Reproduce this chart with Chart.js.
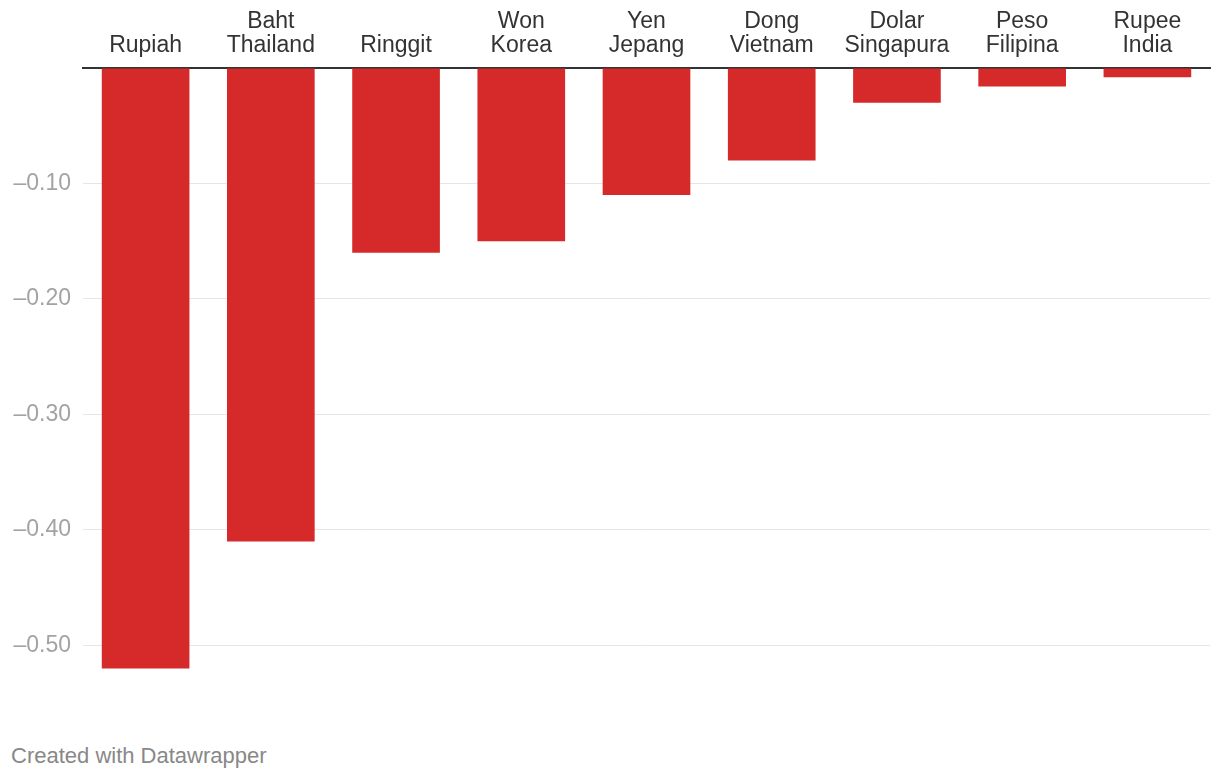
<!DOCTYPE html>
<html>
<head>
<meta charset="utf-8">
<title>Mata uang Asia</title>
<script src="https://cdn.jsdelivr.net/npm/chart.js@4.4.1/dist/chart.umd.min.js"></script>
<style>
    html, body { margin: 0; padding: 0; background: #fff; }
    #wrap { position: relative; width: 1220px; height: 729px; }
    #footer {
        position: absolute; left: 11px; top: 745px;
        font: 22px/22px "Liberation Sans", Arial, sans-serif; color: #888;
    }
</style>
</head>
<body>
<div id="wrap"><canvas id="myBarChart"></canvas></div>
<div id="footer">Created with Datawrapper</div>
<script>
// data
var categories = [
    ['Rupiah'], ['Baht', 'Thailand'], ['Ringgit'], ['Won', 'Korea'], ['Yen', 'Jepang'],
    ['Dong', 'Vietnam'], ['Dolar', 'Singapura'], ['Peso', 'Filipina'], ['Rupee', 'India']
];
var values = [-0.52, -0.41, -0.16, -0.15, -0.11, -0.08, -0.03, -0.016, -0.008];
var yTicks = [0, -0.1, -0.2, -0.3, -0.4, -0.5];

window.addEventListener('load', function () {
    var fontFamily = '"Liberation Sans", Arial, sans-serif';
    var ctx = document.getElementById('myBarChart').getContext('2d');

    var myBarChart = new Chart(ctx, {
        type: 'bar',
        data: {
            labels: categories,
            datasets: [{
                data: values,
                backgroundColor: '#d6292a',
                borderWidth: 0,
                categoryPercentage: 1,
                barPercentage: 0.7
            }]
        },
        options: {
            responsive: true,
            maintainAspectRatio: false,
            animation: false,
            layout: { padding: { top: 0, right: 10, bottom: 9, left: 0 } },
            plugins: {
                legend: { display: false },
                tooltip: { enabled: false }
            },
            scales: {
                x: {
                    position: 'top',
                    z: 1,
                    grid: { display: false, drawTicks: false },
                    border: { display: true, color: '#333', width: 2 },
                    ticks: {
                        color: '#333',
                        padding: 10,
                        maxRotation: 0,
                        autoSkip: false,
                        font: { family: fontFamily, size: 23, lineHeight: 1.045 }
                    },
                    afterFit: function (scale) { scale.height = 68; }
                },
                y: {
                    min: -0.55,
                    max: 0,
                    border: { display: false },
                    grid: {
                        drawTicks: false,
                        color: function (c) {
                            return c.tick && c.tick.value === 0 ? 'rgba(0,0,0,0)' : '#e6e6e6';
                        }
                    },
                    afterBuildTicks: function (scale) {
                        scale.ticks = yTicks.map(function (v) { return { value: v }; });
                    },
                    ticks: {
                        color: '#a3a3a3',
                        padding: 12,
                        font: { family: fontFamily, size: 23 },
                        callback: function (v) {
                            if (v === 0) return '';
                            return '\u2013' + Math.abs(v).toFixed(2);
                        }
                    },
                    afterFit: function (scale) { scale.width = 83; }
                }
            }
        }
    });
});
</script>
</body>
</html>
